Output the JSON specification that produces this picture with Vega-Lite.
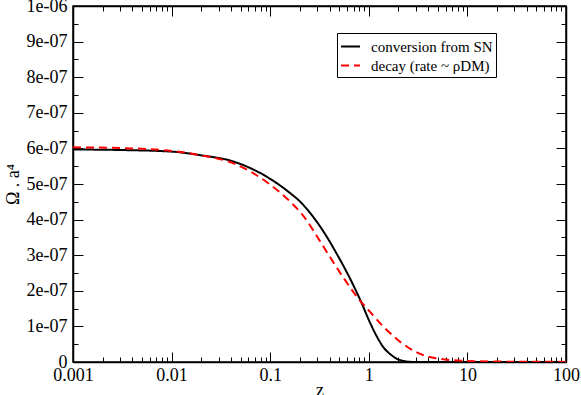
{
  "$schema": "https://vega.github.io/schema/vega-lite/v6.json",
  "width": 493,
  "height": 356,
  "autosize": {"type": "none"},
  "padding": {"left": 73, "top": 6, "right": 15, "bottom": 33},
  "background": "white",
  "config": {
    "view": {"stroke": "black", "strokeWidth": 1.5},
    "font": "Liberation Serif",
    "legend": {"labelFont": "Liberation Serif", "titleFont": "Liberation Serif"},
    "axis": {
      "grid": false,
      "domainColor": "black",
      "domainWidth": 1.5,
      "tickColor": "black",
      "tickWidth": 1,
      "labelColor": "black",
      "titleColor": "black",
      "labelFont": "Liberation Serif",
      "titleFont": "Liberation Serif",
      "labelFontSize": 18,
      "titleFontSize": 18,
      "titleFontWeight": "normal",
      "labelFlush": false,
      "labelOverlap": false
    }
  },
  "datasets": {
    "curves": [
      {"series": "conversion from SN", "z": 0.001, "v": 5.97e-7},
      {"series": "conversion from SN", "z": 0.003, "v": 5.955e-7},
      {"series": "conversion from SN", "z": 0.01, "v": 5.91e-7},
      {"series": "conversion from SN", "z": 0.0195, "v": 5.81e-7},
      {"series": "conversion from SN", "z": 0.0424, "v": 5.63e-7},
      {"series": "conversion from SN", "z": 0.0927, "v": 5.2e-7},
      {"series": "conversion from SN", "z": 0.16, "v": 4.74e-7},
      {"series": "conversion from SN", "z": 0.202, "v": 4.5e-7},
      {"series": "conversion from SN", "z": 0.255, "v": 4.18e-7},
      {"series": "conversion from SN", "z": 0.348, "v": 3.66e-7},
      {"series": "conversion from SN", "z": 0.475, "v": 3.03e-7},
      {"series": "conversion from SN", "z": 0.649, "v": 2.33e-7},
      {"series": "conversion from SN", "z": 0.82, "v": 1.74e-7},
      {"series": "conversion from SN", "z": 1.035, "v": 1.09e-7},
      {"series": "conversion from SN", "z": 1.21, "v": 7.1e-8},
      {"series": "conversion from SN", "z": 1.41, "v": 4.1e-8},
      {"series": "conversion from SN", "z": 1.65, "v": 2.2e-8},
      {"series": "conversion from SN", "z": 1.93, "v": 9e-9},
      {"series": "conversion from SN", "z": 2.26, "v": 3e-9},
      {"series": "conversion from SN", "z": 2.6, "v": 5e-10},
      {"series": "conversion from SN", "z": 3.2, "v": 0},
      {"series": "conversion from SN", "z": 100, "v": 0},
      {"series": "decay (rate ~ ρDM)", "z": 0.001, "v": 6.03e-7},
      {"series": "decay (rate ~ ρDM)", "z": 0.003, "v": 6.01e-7},
      {"series": "decay (rate ~ ρDM)", "z": 0.01, "v": 5.93e-7},
      {"series": "decay (rate ~ ρDM)", "z": 0.0195, "v": 5.81e-7},
      {"series": "decay (rate ~ ρDM)", "z": 0.0424, "v": 5.58e-7},
      {"series": "decay (rate ~ ρDM)", "z": 0.0927, "v": 5.05e-7},
      {"series": "decay (rate ~ ρDM)", "z": 0.16, "v": 4.5e-7},
      {"series": "decay (rate ~ ρDM)", "z": 0.218, "v": 4.1e-7},
      {"series": "decay (rate ~ ρDM)", "z": 0.298, "v": 3.53e-7},
      {"series": "decay (rate ~ ρDM)", "z": 0.406, "v": 2.94e-7},
      {"series": "decay (rate ~ ρDM)", "z": 0.555, "v": 2.36e-7},
      {"series": "decay (rate ~ ρDM)", "z": 0.759, "v": 1.83e-7},
      {"series": "decay (rate ~ ρDM)", "z": 1.035, "v": 1.4e-7},
      {"series": "decay (rate ~ ρDM)", "z": 1.41, "v": 9.9e-8},
      {"series": "decay (rate ~ ρDM)", "z": 1.93, "v": 6.4e-8},
      {"series": "decay (rate ~ ρDM)", "z": 2.64, "v": 3.7e-8},
      {"series": "decay (rate ~ ρDM)", "z": 3.6, "v": 1.9e-8},
      {"series": "decay (rate ~ ρDM)", "z": 4.9, "v": 1.0e-8},
      {"series": "decay (rate ~ ρDM)", "z": 6.2, "v": 6.5e-9},
      {"series": "decay (rate ~ ρDM)", "z": 10, "v": 3e-9},
      {"series": "decay (rate ~ ρDM)", "z": 20, "v": 1.2e-9},
      {"series": "decay (rate ~ ρDM)", "z": 100, "v": 3e-10}
    ]
  },
  "layer": [
    {
      "data": {"name": "curves"},
      "mark": {"type": "line", "strokeWidth": 2, "clip": true, "interpolate": "monotone"},
      "encoding": {
        "x": {
          "field": "z",
          "type": "quantitative",
          "scale": {"type": "log", "domain": [0.001, 100]},
          "axis": {
            "orient": "bottom",
            "title": "z",
            "values": [0.001,0.002,0.003,0.004,0.005,0.006,0.007,0.008,0.009,0.01,0.02,0.03,0.04,0.05,0.06,0.07,0.08,0.09,0.1,0.2,0.3,0.4,0.5,0.6,0.7,0.8,0.9,1,2,3,4,5,6,7,8,9,10,20,30,40,50,60,70,80,90,100],
            "labelExpr": "abs(log(datum.value)/LN10 - round(log(datum.value)/LN10)) < 0.001 ? format(datum.value, '~g') : ''",
            "tickSize": {"condition": {"test": "abs(log(datum.value)/LN10 - round(log(datum.value)/LN10)) < 0.001", "value": -10}, "value": -5},
            "labelPadding": 14,
            "titlePadding": -8
          }
        },
        "y": {
          "field": "v",
          "type": "quantitative",
          "scale": {"domain": [0, 1e-6], "nice": false, "zero": true},
          "axis": {
            "orient": "left",
            "title": "Ω . a⁴",
            "values": [0,5e-8,1e-7,1.5e-7,2e-7,2.5e-7,3e-7,3.5e-7,4e-7,4.5e-7,5e-7,5.5e-7,6e-7,6.5e-7,7e-7,7.5e-7,8e-7,8.5e-7,9e-7,9.5e-7,1e-6],
            "labelExpr": "round(datum.value*1e8) % 10 != 0 ? '' : (round(datum.value*1e7) == 0 ? '0' : (round(datum.value*1e7) == 10 ? '1e-06' : round(datum.value*1e7) + 'e-07'))",
            "tickSize": {"condition": {"test": "round(datum.value*1e8) % 10 == 0", "value": -10}, "value": -5},
            "labelPadding": 16,
            "titlePadding": 4
          }
        },
        "color": {
          "field": "series",
          "type": "nominal",
          "scale": {"domain": ["conversion from SN", "decay (rate ~ ρDM)"], "range": ["#000000", "#ff0000"]},
          "legend": {
            "orient": "none",
            "legendX": 264,
            "legendY": 27,
            "title": null,
            "strokeColor": "black",
            "fillColor": "white",
            "padding": 3,
            "labelFontSize": 15,
            "labelColor": "black",
            "symbolType": "stroke",
            "symbolSize": 361,
            "symbolStrokeWidth": 2,
            "rowPadding": 0,
            "labelOffset": 10
          }
        },
        "strokeDash": {
          "field": "series",
          "type": "nominal",
          "scale": {"domain": ["conversion from SN", "decay (rate ~ ρDM)"], "range": [[1, 0], [8, 5]]},
          "legend": {
            "orient": "none",
            "legendX": 264,
            "legendY": 27,
            "title": null,
            "strokeColor": "black",
            "fillColor": "white",
            "padding": 3,
            "labelFontSize": 15,
            "labelColor": "black",
            "symbolType": "stroke",
            "symbolSize": 361,
            "symbolStrokeWidth": 2,
            "rowPadding": 0,
            "labelOffset": 10
          }
        }
      }
    },
    {
      "data": {"name": "curves"},
      "mark": {"type": "line", "opacity": 0},
      "encoding": {
        "x": {
          "field": "z",
          "type": "quantitative",
          "scale": {"type": "log", "domain": [0.001, 100]},
          "axis": {
            "orient": "top",
            "title": null,
            "labels": false,
            "values": [0.001,0.002,0.003,0.004,0.005,0.006,0.007,0.008,0.009,0.01,0.02,0.03,0.04,0.05,0.06,0.07,0.08,0.09,0.1,0.2,0.3,0.4,0.5,0.6,0.7,0.8,0.9,1,2,3,4,5,6,7,8,9,10,20,30,40,50,60,70,80,90,100],
            "tickSize": {"condition": {"test": "abs(log(datum.value)/LN10 - round(log(datum.value)/LN10)) < 0.001", "value": -10}, "value": -5}
          }
        },
        "y": {
          "field": "v",
          "type": "quantitative",
          "scale": {"domain": [0, 1e-6], "nice": false, "zero": true},
          "axis": {
            "orient": "right",
            "title": null,
            "labels": false,
            "values": [0,5e-8,1e-7,1.5e-7,2e-7,2.5e-7,3e-7,3.5e-7,4e-7,4.5e-7,5e-7,5.5e-7,6e-7,6.5e-7,7e-7,7.5e-7,8e-7,8.5e-7,9e-7,9.5e-7,1e-6],
            "tickSize": {"condition": {"test": "round(datum.value*1e8) % 10 == 0", "value": -10}, "value": -5}
          }
        },
        "detail": {"field": "series", "type": "nominal"}
      }
    }
  ],
  "resolve": {"scale": {"x": "independent", "y": "independent"}}
}
